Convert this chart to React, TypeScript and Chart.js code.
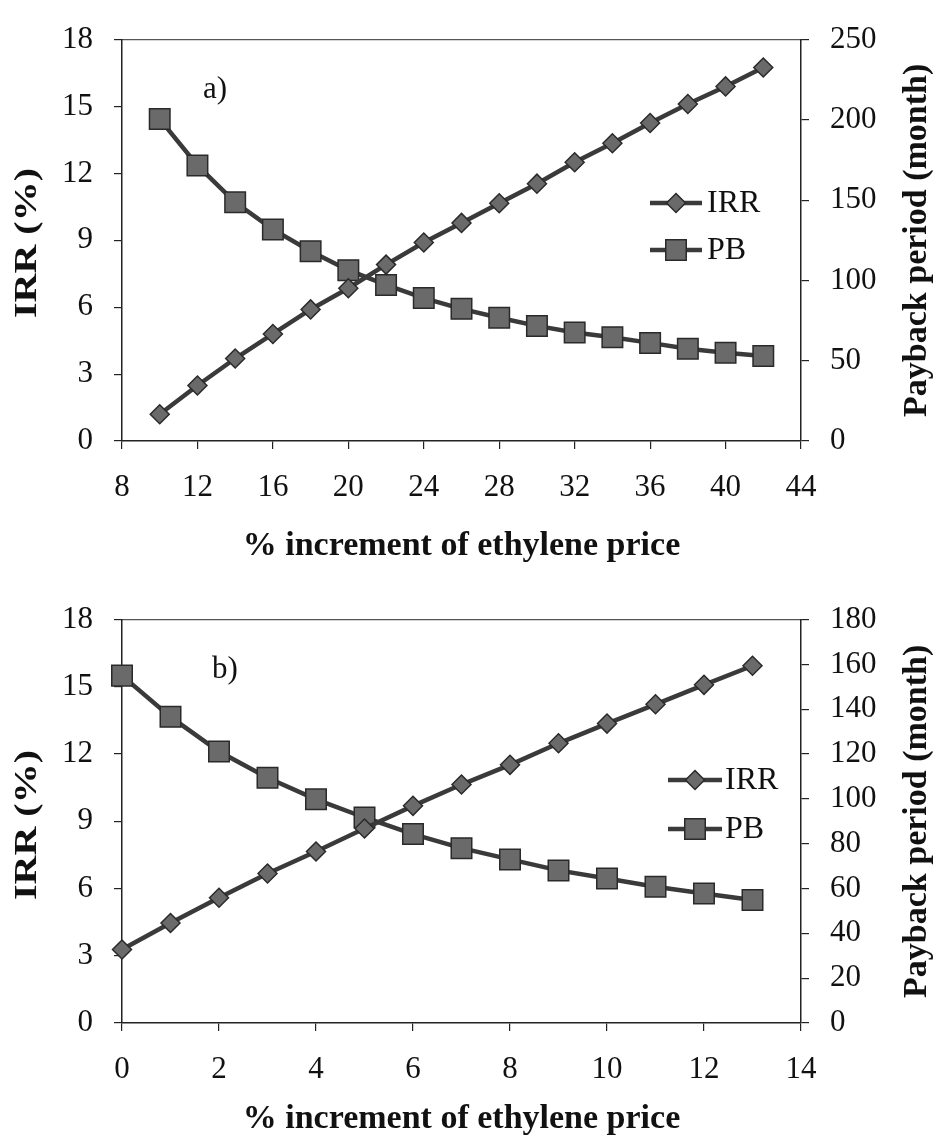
import React, { useEffect, useRef } from 'react';
import { Chart, registerables } from 'chart.js';

Chart.register(...registerables);

// ---------- data ----------
const xA = [10, 12, 14, 16, 18, 20, 22, 24, 26, 28, 30, 32, 34, 36, 38, 40, 42];
const irrA = [1.2, 2.49, 3.7, 4.8, 5.9, 6.85, 7.91, 8.9, 9.78, 10.66, 11.54, 12.5, 13.35, 14.26, 15.11, 15.9, 16.75];
const pbA = [200.5, 171.6, 148.7, 131.8, 118.2, 106.4, 97.2, 89.0, 82.3, 76.8, 71.7, 67.6, 64.6, 61.1, 57.5, 55.0, 53.0];

const xB = [0, 1, 2, 3, 4, 5, 6, 7, 8, 9, 10, 11, 12, 13];
const irrB = [3.28, 4.46, 5.59, 6.67, 7.65, 8.68, 9.69, 10.64, 11.52, 12.48, 13.36, 14.22, 15.09, 15.94];
const pbB = [155.0, 136.6, 121.1, 109.4, 99.8, 91.7, 84.3, 78.0, 73.0, 68.1, 64.5, 60.8, 57.8, 54.9];

const xTicksA = [8, 12, 16, 20, 24, 28, 32, 36, 40, 44];
const xTicksB = [0, 2, 4, 6, 8, 10, 12, 14];
const irrTicks = [0, 3, 6, 9, 12, 15, 18];
const pbTicksA = [0, 50, 100, 150, 200, 250];
const pbTicksB = [0, 20, 40, 60, 80, 100, 120, 140, 160, 180];

const seriesLabels = ['IRR', 'PB'];
const xTitle = '% increment of ethylene price';
const leftTitle = 'IRR (%)';
const rightTitle = 'Payback period (month)';
const panelLabels = ['a)', 'b)'];

// ---------- styling ----------
const FONT = "'Liberation Serif', 'Times New Roman', Times, serif";
const TEXT = '#111';
const AXIS = '#222';
const LINE = '#3a3a3a';
const MARK_FILL = '#6a6a6a';
const MARK_EDGE = '#2a2a2a';
const W = 934;

function drawMarker(ctx: CanvasRenderingContext2D, style: string, x: number, y: number, r: number) {
  ctx.beginPath();
  if (style === 'rect') {
    const s = r * Math.SQRT1_2;
    ctx.rect(x - s, y - s, 2 * s, 2 * s);
  } else {
    ctx.moveTo(x, y - r);
    ctx.lineTo(x + r, y);
    ctx.lineTo(x, y + r);
    ctx.lineTo(x - r, y);
    ctx.closePath();
  }
  ctx.fillStyle = MARK_FILL;
  ctx.fill();
  ctx.strokeStyle = MARK_EDGE;
  ctx.lineWidth = 1.5;
  ctx.stroke();
}

const extrasPlugin = {
  id: 'extras',
  afterDraw(chart: any, _args: any, opts: any) {
    const ctx: CanvasRenderingContext2D = chart.ctx;
    const area = chart.chartArea;
    const midY = (area.top + area.bottom) / 2;
    ctx.save();
    // legend
    chart.data.datasets.forEach((ds: any, i: number) => {
      const y = opts.legendY[i];
      ctx.strokeStyle = LINE;
      ctx.lineWidth = ds.borderWidth;
      ctx.beginPath();
      ctx.moveTo(opts.legendX0, y);
      ctx.lineTo(opts.legendX1, y);
      ctx.stroke();
      drawMarker(ctx, ds.pointStyle, (opts.legendX0 + opts.legendX1) / 2, y, ds.pointRadius);
      ctx.fillStyle = TEXT;
      ctx.font = `32px ${FONT}`;
      ctx.textBaseline = 'middle';
      ctx.textAlign = 'left';
      ctx.fillText(ds.label, opts.legendTextX, y + 1);
    });
    // panel label
    ctx.fillStyle = TEXT;
    ctx.font = `31px ${FONT}`;
    ctx.textBaseline = 'middle';
    ctx.textAlign = 'left';
    ctx.fillText(opts.panelLabel, opts.panelX, opts.panelY);

    // left axis title (reads bottom to top)
    ctx.save();
    ctx.translate(opts.leftTitleX, opts.leftTitleY);
    ctx.rotate(-Math.PI / 2);
    ctx.scale(1.25, 1);
    ctx.font = `bold 32px ${FONT}`;
    ctx.textAlign = 'center';
    ctx.textBaseline = 'middle';
    ctx.fillText(leftTitle, 0, 0);
    ctx.restore();

    // right axis title (reads bottom to top)
    ctx.translate(opts.rightTitleX, midY);
    ctx.rotate(-Math.PI / 2);
    ctx.font = `bold 34px ${FONT}`;
    ctx.textAlign = 'center';
    ctx.textBaseline = 'middle';
    ctx.fillText(rightTitle, 0, 0);
    ctx.restore();
  },
};

function makeConfig(p: any): any {
  const H = p.height;
  const tickFont = { family: FONT, size: 31 };
  const setTicks = (vals: number[]) => (axis: any) => {
    axis.ticks = vals.map((v) => ({ value: v }));
  };
  const gridOpts = { drawOnChartArea: false, drawTicks: true, tickLength: 8, color: AXIS, lineWidth: 1.2 };
  const borderOpts = { display: true, color: AXIS, width: 1.5 };
  return {
    type: 'line',
    data: {
      datasets: [
        {
          label: seriesLabels[0],
          data: p.x.map((x: number, i: number) => ({ x, y: p.irr[i] })),
          yAxisID: 'y',
          borderColor: LINE,
          borderWidth: 4.5,
          pointStyle: 'rectRot',
          pointRadius: 9.5,
          pointBackgroundColor: MARK_FILL,
          pointBorderColor: MARK_EDGE,
          pointBorderWidth: 1.5,
          tension: 0,
          clip: false,
        },
        {
          label: seriesLabels[1],
          data: p.x.map((x: number, i: number) => ({ x, y: p.pb[i] })),
          yAxisID: 'y2',
          borderColor: LINE,
          borderWidth: 4.5,
          pointStyle: 'rect',
          pointRadius: 14.5,
          pointBackgroundColor: MARK_FILL,
          pointBorderColor: MARK_EDGE,
          pointBorderWidth: 1.5,
          tension: 0,
          clip: false,
        },
      ],
    },
    options: {
      responsive: false,
      animation: false,
      events: [],
      layout: { padding: { top: p.top, left: 0, right: 0, bottom: 0 } },
      plugins: {
        legend: { display: false },
        tooltip: { enabled: false },
        extras: {
          legendY: p.legendY,
          legendX0: p.legendX0,
          legendX1: p.legendX1,
          legendTextX: p.legendTextX,
          panelLabel: p.panelLabel,
          panelX: p.panelX,
          panelY: p.panelY,
          leftTitleX: 28,
          leftTitleY: p.leftTitleY,
          rightTitleX: 917,
        },
      },
      scales: {
        x: {
          type: 'linear',
          position: 'bottom',
          min: p.xTicks[0],
          max: p.xTicks[p.xTicks.length - 1],
          afterBuildTicks: setTicks(p.xTicks),
          afterFit: (s: any) => {
            s.height = H - p.bottom;
          },
          grid: gridOpts,
          border: borderOpts,
          ticks: { font: tickFont, color: TEXT, padding: 20, maxRotation: 0 },
          title: {
            display: true,
            text: xTitle,
            color: TEXT,
            font: { family: FONT, size: 34, weight: 'bold' },
            padding: { top: 0, bottom: p.xTitlePad },
          },
        },
        xTop: {
          type: 'linear',
          position: 'top',
          min: p.xTicks[0],
          max: p.xTicks[p.xTicks.length - 1],
          afterFit: (s: any) => {
            s.height = 0;
          },
          grid: { drawOnChartArea: false, drawTicks: false },
          border: { display: true, color: '#555', width: 1.2 },
          ticks: { display: false },
        },
        y: {
          type: 'linear',
          position: 'left',
          min: 0,
          max: 18,
          afterBuildTicks: setTicks(irrTicks),
          afterFit: (s: any) => {
            s.width = 122;
          },
          grid: gridOpts,
          border: borderOpts,
          ticks: { font: tickFont, color: TEXT, padding: 21 },
        },
        y2: {
          type: 'linear',
          position: 'right',
          min: 0,
          max: p.pbTicks[p.pbTicks.length - 1],
          afterBuildTicks: setTicks(p.pbTicks),
          afterFit: (s: any) => {
            s.width = W - 801;
          },
          grid: gridOpts,
          border: borderOpts,
          ticks: { font: tickFont, color: TEXT, padding: 21 },
        },
      },
    },
    plugins: [extrasPlugin],
  };
}

function Panel({ p }: { p: any }) {
  const ref = useRef<HTMLCanvasElement>(null);
  useEffect(() => {
    const chart = new Chart(ref.current as HTMLCanvasElement, makeConfig(p));
    return () => chart.destroy();
  }, []);
  return (
    <canvas
      ref={ref}
      width={W}
      height={p.height}
      style={{ display: 'block', width: W, height: p.height }}
    />
  );
}

const panelA = {
  height: 580,
  top: 32,
  bottom: 441,
  x: xA,
  irr: irrA,
  pb: pbA,
  xTicks: xTicksA,
  pbTicks: pbTicksA,
  xTitlePad: 13,
  legendY: [203, 250],
  legendX0: 650,
  legendX1: 702,
  legendTextX: 707,
  panelLabel: panelLabels[0],
  panelX: 203,
  panelY: 90,
  leftTitleY: 243,
};

const panelB = {
  height: 560,
  top: 34,
  bottom: 443,
  x: xB,
  irr: irrB,
  pb: pbB,
  xTicks: xTicksB,
  pbTicks: pbTicksB,
  xTitlePad: 0,
  legendY: [200, 249],
  legendX0: 668,
  legendX1: 722,
  legendTextX: 725,
  panelLabel: panelLabels[1],
  panelX: 212,
  panelY: 90,
  leftTitleY: 245,
};

export default function App() {
  return (
    <div style={{ position: 'absolute', left: 0, top: 0, width: W, height: 1140, background: '#fff' }}>
      <Panel p={panelA} />
      <Panel p={panelB} />
    </div>
  );
}
